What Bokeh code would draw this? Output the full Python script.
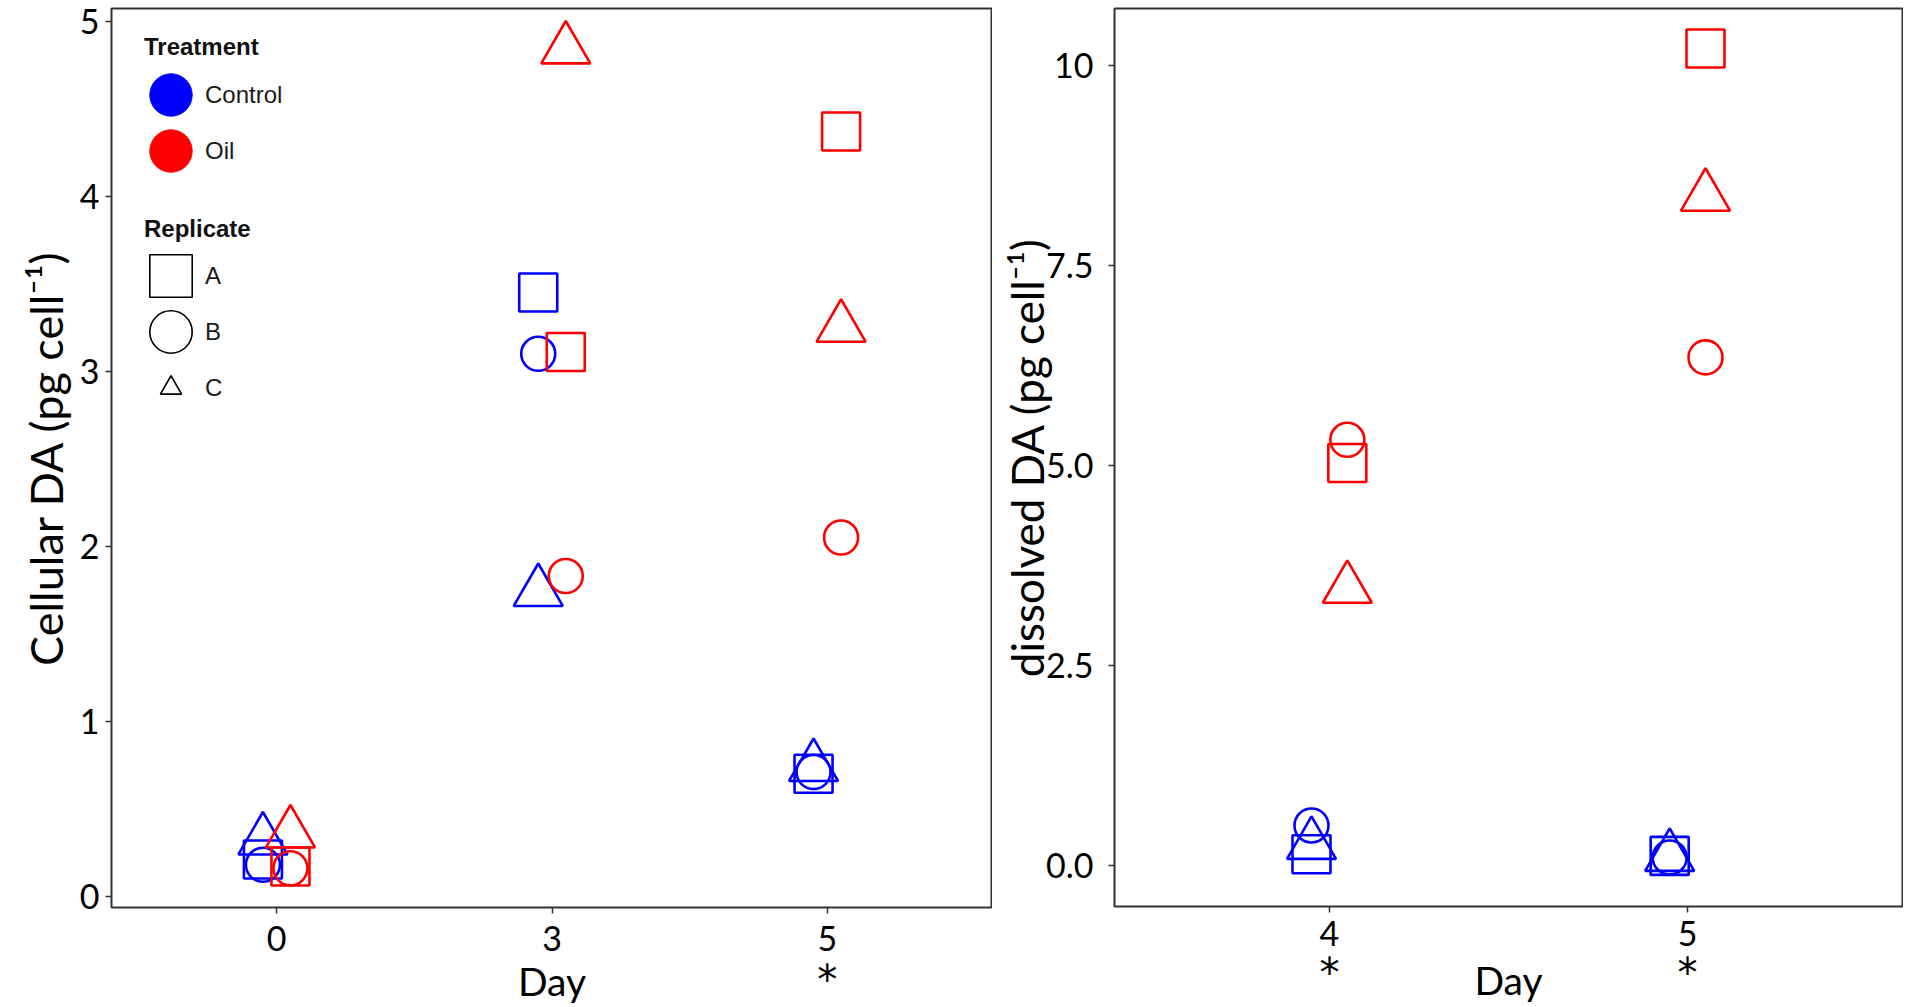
import numpy as np
from bokeh.plotting import figure
from bokeh.models import (Range1d, FixedTicker, Legend, LegendItem,
                          ColumnDataSource, LinearAxis)
from bokeh.transform import dodge
from bokeh.layouts import row
from bokeh.embed import file_html
from bokeh.resources import INLINE

# ---------------- data ----------------
# Cellular DA (pg cell^-1), days 0, 3, 5
cell_days = ["0", "3", "5"]
cell_ctrl_A = [0.21, 3.45, 0.70]
cell_ctrl_B = [0.18, 3.10, 0.71]
cell_ctrl_C = [0.32, 1.74, 0.74]
cell_oil_A = [0.17, 3.11, 4.37]
cell_oil_B = [0.16, 1.83, 2.05]
cell_oil_C = [0.36, 4.84, 3.25]
cell_signif = ["5"]

# dissolved DA (pg cell^-1), days 4, 5
diss_days = ["4", "5"]
diss_ctrl_A = [0.14, 0.12]
diss_ctrl_B = [0.50, 0.10]
diss_ctrl_C = [0.26, 0.11]
diss_oil_A = [5.03, 10.21]
diss_oil_B = [5.32, 6.35]
diss_oil_C = [3.46, 8.36]
diss_signif = ["4", "5"]

cell_yticks = [0, 1, 2, 3, 4, 5]
diss_yticks = [0, 2.5, 5, 7.5, 10]
diss_ylabels = {0: "0.0", 2.5: "2.5", 5: "5.0", 7.5: "7.5", 10: "10"}

treatments = ["Control", "Oil"]
replicates = ["A", "B", "C"]

# ---------------- styles ----------------
COLORS = {"Control": "#0000FF", "Oil": "#FF0000"}
OFFSET = {"Control": -0.05, "Oil": 0.05}
MARKER = {"A": "square", "B": "circle", "C": "triangle"}
SIZE = {"square": 38, "circle": 34, "triangle": 49}
FONT = "Lato"
PAD = 0.1  # discrete-axis padding on each side


def slots(days):
    # discrete day positions on the x scale (one slot per day)
    return [i + 0.5 for i in range(len(days))]


def style(p, days, ytick_standoff, ylab_standoff, xtick_standoff, ylab_size):
    p.xgrid.visible = False
    p.ygrid.visible = False
    p.outline_line_color = "#333333"
    p.outline_line_width = 2
    p.background_fill_color = "white"
    p.border_fill_color = "white"
    for ax in (p.xaxis[0], p.yaxis[0]):
        ax.axis_line_color = None
        ax.major_tick_line_color = "#333333"
        ax.major_tick_line_width = 1.5
        ax.major_tick_out = 6
        ax.major_tick_in = 0
        ax.minor_tick_line_color = None
        ax.major_label_text_font = FONT
        ax.major_label_text_font_size = "34px"
        ax.major_label_text_color = "black"
        ax.axis_label_text_font = FONT
        ax.axis_label_text_font_style = "normal"
        ax.axis_label_text_color = "black"
    pos = slots(days)
    p.xaxis[0].ticker = FixedTicker(ticks=pos)
    p.xaxis[0].major_label_overrides = dict(zip(pos, days))
    p.yaxis[0].axis_label_text_font_size = ylab_size
    p.xaxis[0].major_label_standoff = xtick_standoff
    p.yaxis[0].major_label_standoff = ytick_standoff
    p.yaxis[0].axis_label_standoff = ylab_standoff


def draw_points(p, days, series):
    for trt in treatments:
        for rep in replicates:
            src = ColumnDataSource(dict(pos=slots(days), day=days,
                                        val=series[(trt, rep)]))
            m = MARKER[rep]
            p.scatter(x=dodge("pos", OFFSET[trt]), y="val",
                      source=src, marker=m, size=SIZE[m],
                      fill_color=None, line_color=COLORS[trt], line_width=2.6)


def add_star_axis(p, days, signif, star_standoff, day_standoff):
    # second bottom axis: significance asterisks under the day labels + "Day" title
    pos = [slots(days)[days.index(d)] for d in signif]
    ax = LinearAxis(ticker=FixedTicker(ticks=pos),
                    major_label_overrides={t: "*" for t in pos})
    ax.axis_line_color = None
    ax.major_tick_line_color = None
    ax.major_tick_out = 0
    ax.major_tick_in = 0
    ax.minor_tick_line_color = None
    ax.major_label_text_font = "DejaVu Sans"
    ax.major_label_text_font_size = "40px"
    ax.major_label_text_color = "black"
    ax.major_label_standoff = star_standoff
    ax.axis_label = "Day"
    ax.axis_label_text_font = FONT
    ax.axis_label_text_font_style = "normal"
    ax.axis_label_text_font_size = "39px"
    ax.axis_label_text_color = "black"
    ax.axis_label_standoff = day_standoff
    p.add_layout(ax, "below")


# ---------------- left panel ----------------
p1 = figure(x_range=Range1d(-PAD, len(cell_days) + PAD),
            y_range=Range1d(-0.064, 5.073),
            frame_width=881, frame_height=899,
            min_border_left=111, min_border_right=0,
            min_border_top=8, min_border_bottom=100,
            output_backend="svg", toolbar_location=None)
style(p1, cell_days, ytick_standoff=6, ylab_standoff=4, xtick_standoff=12,
      ylab_size="45px")
p1.yaxis[0].ticker = FixedTicker(ticks=cell_yticks)
p1.yaxis.axis_label = "Cellular DA (pg cell\u207b\u00b9)"
add_star_axis(p1, cell_days, cell_signif, star_standoff=3, day_standoff=-48)

cell_series = {
    ("Control", "A"): cell_ctrl_A, ("Control", "B"): cell_ctrl_B,
    ("Control", "C"): cell_ctrl_C, ("Oil", "A"): cell_oil_A,
    ("Oil", "B"): cell_oil_B, ("Oil", "C"): cell_oil_C,
}
draw_points(p1, cell_days, cell_series)

# legend-only renderers (one undrawn NaN point each, so they only show in the legend)
nan_x = np.array([np.nan])
nan_y = np.array([np.nan])
key_ctrl = p1.ellipse(x=nan_x, y=nan_y, width=40, height=40,
                      width_units="screen", height_units="screen",
                      fill_color=COLORS["Control"], line_color=COLORS["Control"])
key_oil = p1.ellipse(x=nan_x, y=nan_y, width=40, height=40,
                     width_units="screen", height_units="screen",
                     fill_color=COLORS["Oil"], line_color=COLORS["Oil"])
key_A = p1.rect(x=nan_x, y=nan_y, width=40, height=40,
                width_units="screen", height_units="screen",
                fill_color=None, line_color="black", line_width=1.6)
key_B = p1.ellipse(x=nan_x, y=nan_y, width=40, height=40,
                   width_units="screen", height_units="screen",
                   fill_color=None, line_color="black", line_width=1.6)
key_C = p1.scatter(x=nan_x, y=nan_y, marker="triangle", size=40,
                   fill_color=None, line_color="black", line_width=1.6)

leg_common = dict(glyph_width=53, glyph_height=53, label_standoff=8,
                  spacing=3, padding=0, margin=0, background_fill_alpha=0,
                  border_line_alpha=0, label_text_font="Liberation Sans",
                  label_text_font_size="24px", label_text_color="#1a1a1a",
                  title_text_font="Liberation Sans", title_text_font_style="bold",
                  title_text_font_size="24px", title_text_color="#111111")
leg_trt = Legend(items=[LegendItem(label="Control", renderers=[key_ctrl]),
                        LegendItem(label="Oil", renderers=[key_oil])],
                 title="Treatment", location=(33, 730), title_standoff=7,
                 **leg_common)
leg_rep = Legend(items=[LegendItem(label="A", renderers=[key_A]),
                        LegendItem(label="B", renderers=[key_B]),
                        LegendItem(label="C", renderers=[key_C])],
                 title="Replicate", location=(33, 493), title_standoff=6,
                 **leg_common)
p1.add_layout(leg_trt)
p1.add_layout(leg_rep)

# ---------------- right panel ----------------
p2 = figure(x_range=Range1d(-PAD, len(diss_days) + PAD),
            y_range=Range1d(-0.5125, 10.71),
            frame_width=788, frame_height=898,
            min_border_left=122, min_border_right=1,
            min_border_top=5, min_border_bottom=104,
            output_backend="svg", toolbar_location=None)
style(p2, diss_days, ytick_standoff=15, ylab_standoff=-10, xtick_standoff=8,
      ylab_size="44px")
p2.yaxis[0].ticker = FixedTicker(ticks=diss_yticks)
p2.yaxis[0].major_label_overrides = diss_ylabels
p2.yaxis.axis_label = "dissolved DA (pg cell\u207b\u00b9)"
add_star_axis(p2, diss_days, diss_signif, star_standoff=1, day_standoff=-42)

diss_series = {
    ("Control", "A"): diss_ctrl_A, ("Control", "B"): diss_ctrl_B,
    ("Control", "C"): diss_ctrl_C, ("Oil", "A"): diss_oil_A,
    ("Oil", "B"): diss_oil_B, ("Oil", "C"): diss_oil_C,
}
draw_points(p2, diss_days, diss_series)

layout = row(p1, p2)
open("out.html", "w").write(file_html(layout, INLINE))
